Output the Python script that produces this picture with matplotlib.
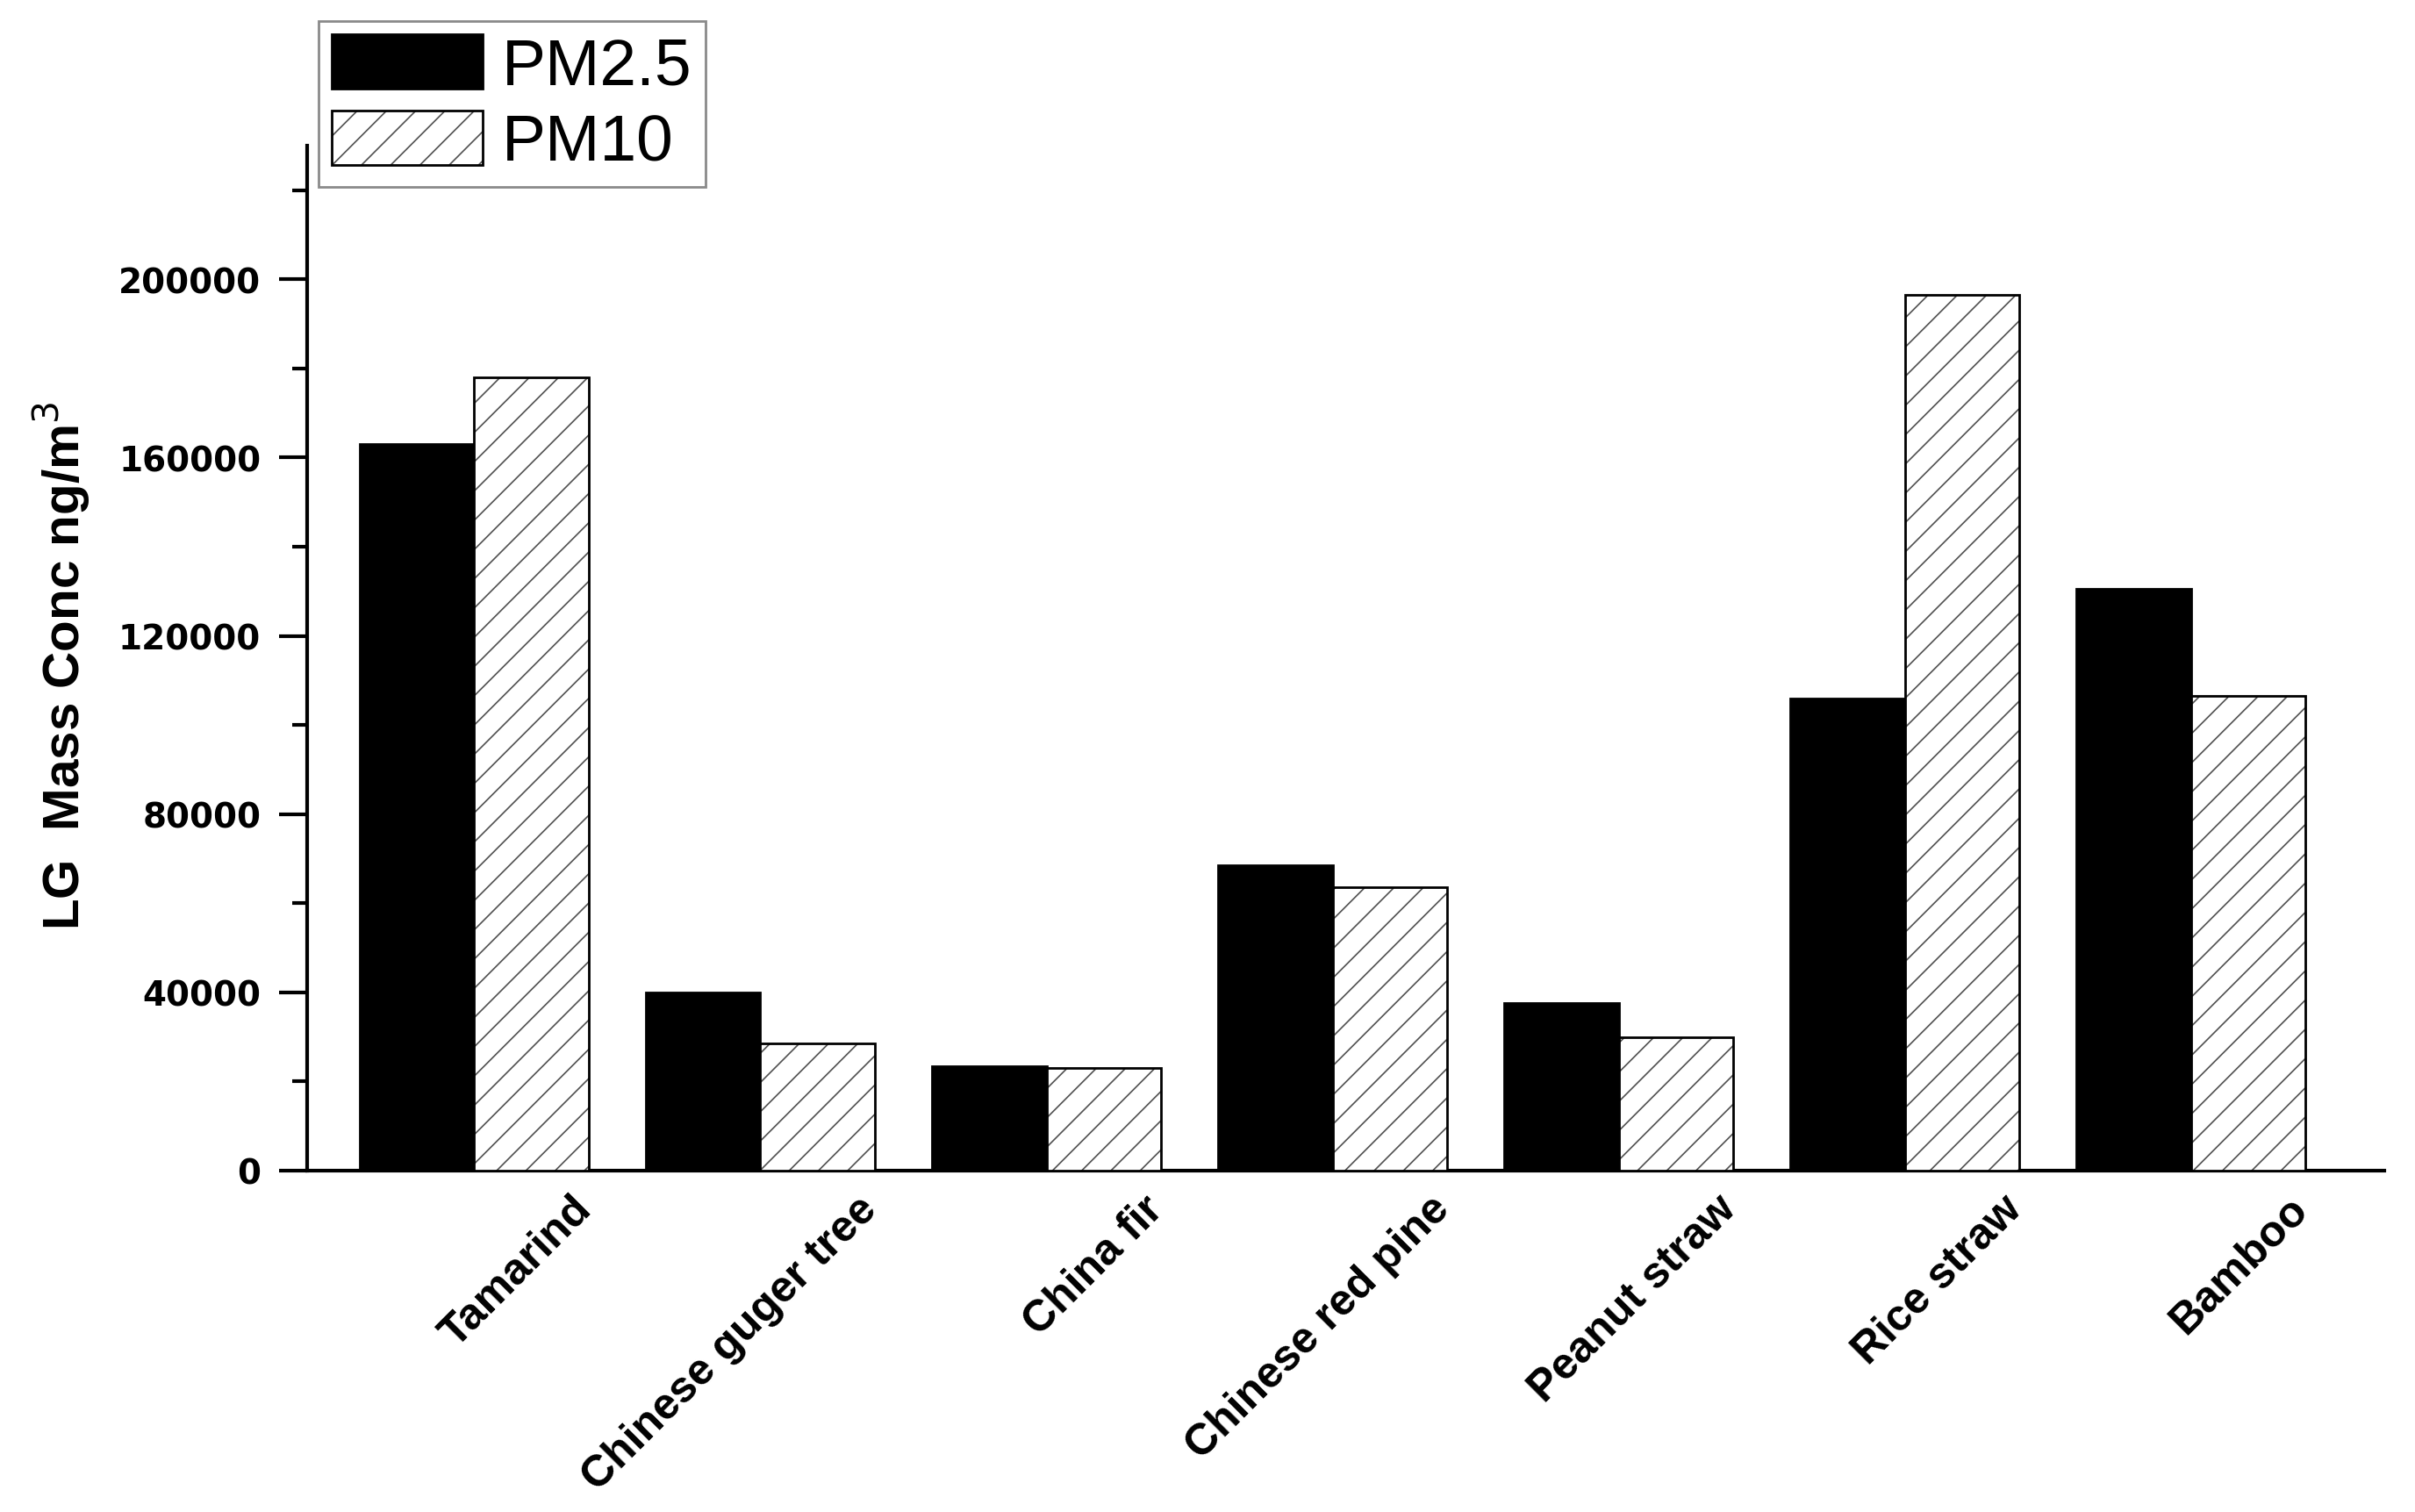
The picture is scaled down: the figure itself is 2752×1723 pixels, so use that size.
#!/usr/bin/env python3
"""LG mass concentration in PM2.5 and PM10 for seven biomass fuels."""
import matplotlib

matplotlib.use("Agg")
import matplotlib.pyplot as plt
import matplotlib.patches as mpatches
from matplotlib.legend_handler import HandlerTuple
from matplotlib.ticker import MultipleLocator
from matplotlib.transforms import ScaledTranslation
import numpy as np

FUELS = [
    "Tamarind",
    "Chinese guger tree",
    "China fir",
    "Chinese red pine",
    "Peanut straw",
    "Rice straw",
    "Bamboo",
]
PM25 = [163000, 40000, 23500, 68500, 37500, 106000, 130500]
PM10 = [178000, 28500, 23000, 63500, 30000, 196500, 106500]
Y_TICKS = [0, 40000, 80000, 120000, 160000, 200000]

HATCH_COLOR = "#505050"

plt.rcParams.update(
    {
        "font.family": ["Liberation Sans", "DejaVu Sans"],
        "hatch.linewidth": 0.6,
        "axes.linewidth": 1.5,
    }
)


def main() -> None:
    fig = plt.figure(figsize=(13.76, 8.62), dpi=200)
    ax = fig.add_axes([0.1272, 0.2257, 0.8601, 0.6774])

    x = np.arange(len(FUELS))
    w = 0.4
    ax.bar(x - w / 2, PM25, w, color="black", edgecolor="black", linewidth=1.0, zorder=3)
    ax.bar(x + w / 2, PM10, w, color="white", edgecolor=HATCH_COLOR, hatch="//",
           linewidth=0, zorder=3)
    ax.bar(x + w / 2, PM10, w, fill=False, edgecolor="black", linewidth=1.0, zorder=4)

    ax.set_xlim(-0.584, 6.676)
    ax.set_ylim(0, 230000)
    ax.set_yticks(Y_TICKS)
    ax.set_yticklabels([str(v) for v in Y_TICKS], family="DejaVu Sans",
                       fontweight="bold", fontsize=14)
    ax.yaxis.set_minor_locator(MultipleLocator(20000))
    ax.tick_params(axis="y", which="major", direction="out", length=11.5, width=1.5, pad=7.5)
    ax.tick_params(axis="y", which="minor", direction="out", length=6, width=1.5)

    # labels end a little right of each group centre, as in the original
    ax.set_xticks(x)
    ax.set_xticklabels(FUELS, rotation=45, ha="right", va="center",
                       rotation_mode="anchor", fontweight="bold", fontsize=18)
    ax.tick_params(axis="x", length=0, pad=13)
    shift = ScaledTranslation(126 / 200, 0, fig.dpi_scale_trans)
    for lab in ax.get_xticklabels():
        lab.set_transform(lab.get_transform() + shift)

    ax.spines["top"].set_visible(False)
    ax.spines["right"].set_visible(False)

    fig.text(0.0254, 0.5597, "LG  Mass Conc ng/m$^3$", rotation=90, ha="center",
             va="center", fontweight="bold", fontsize=21)

    h_black = mpatches.Patch(facecolor="black", edgecolor="black", linewidth=1.0)
    h_hatch = (
        mpatches.Patch(facecolor="white", edgecolor=HATCH_COLOR, hatch="//", linewidth=0),
        mpatches.Patch(fill=False, edgecolor="black", linewidth=1.0),
    )
    leg = fig.legend(
        [h_black, h_hatch],
        ["PM2.5", "PM10"],
        handler_map={tuple: HandlerTuple(ndivide=1)},
        loc="upper left",
        bbox_to_anchor=(0.1319, 0.9855),
        fontsize=27,
        frameon=True,
        fancybox=False,
        edgecolor="#8a8a8a",
        borderpad=0.2,
        labelspacing=0.2,
        handletextpad=0.3,
        handlelength=2.29,
        handleheight=0.9,
        borderaxespad=0,
    )
    leg.get_frame().set_linewidth(1.0)
    leg.get_frame().set_alpha(1.0)

    fig.savefig("out.png", dpi=200)
    plt.close(fig)


if __name__ == "__main__":
    main()
